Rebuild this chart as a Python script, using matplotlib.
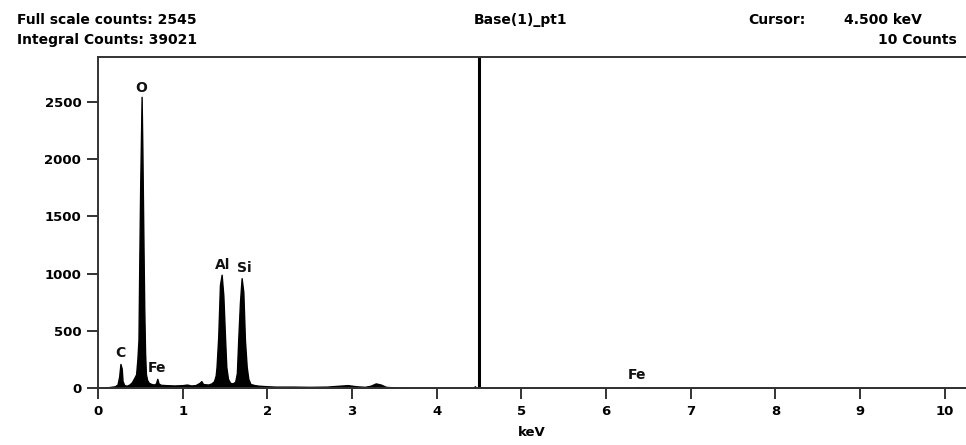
import matplotlib
matplotlib.use("Agg")
import matplotlib.pyplot as plt

# EDS spectrum (keV, counts)
energy_kev = [0.00, 0.08, 0.10, 0.15, 0.20, 0.23, 0.25, 0.265, 0.28, 0.29,
              0.31, 0.34, 0.37, 0.40, 0.43, 0.45, 0.465, 0.478, 0.487, 0.498,
              0.515, 0.524, 0.535, 0.546, 0.556, 0.566, 0.58, 0.60, 0.63, 0.66,
              0.685, 0.700, 0.715, 0.74, 0.80, 0.90, 1.00, 1.05, 1.10, 1.15,
              1.20, 1.22, 1.24, 1.30, 1.34, 1.37, 1.39, 1.40, 1.42, 1.44,
              1.46, 1.48, 1.50, 1.515, 1.535, 1.56, 1.59, 1.62, 1.64, 1.657,
              1.676, 1.696, 1.716, 1.735, 1.756, 1.775, 1.80, 1.85, 1.90, 2.00,
              2.10, 2.30, 2.50, 2.70, 2.85, 2.95, 3.05, 3.15, 3.22, 3.28,
              3.34, 3.40, 3.50, 3.55, 3.58, 3.60, 3.62, 4.43, 4.45, 4.47,
              6.34, 6.37, 6.40, 10.25]
counts = [0, 0, 5, 10, 15, 30, 100, 210, 170, 60,
          25, 20, 30, 50, 90, 120, 250, 420, 1050, 1750,
          2545, 2080, 1365, 700, 305, 120, 70, 45, 35, 30,
          40, 80, 40, 28, 25, 22, 25, 30, 22, 25,
          45, 60, 35, 30, 40, 60, 110, 185, 450, 900,
          990, 810, 440, 185, 80, 45, 40, 55, 130, 440,
          745, 960, 840, 420, 185, 80, 35, 25, 20, 15,
          12, 12, 10, 12, 20, 25, 15, 10, 20, 40,
          30, 10, 5, 0, 0, 6, 0, 0, 15, 0,
          0, 8, 0, 0]

# peak labels
peak_names = ["C", "O", "Fe", "Al", "Si", "Fe"]
peak_x = [0.26, 0.508, 0.70, 1.476, 1.724, 6.36]
peak_y = [306, 2622, 175, 1075, 1049, 114]

cursor_kev = 4.5

fig = plt.figure(figsize=(9.66, 4.45), dpi=100)
ax = fig.add_axes([98 / 966, (445 - 388) / 445, 868 / 966, 331 / 445])

ax.fill_between(energy_kev, counts, 0, color="black", lw=1.0)
ax.axvline(cursor_kev, color="black", lw=2.2)

for name, x, y in zip(peak_names, peak_x, peak_y):
    ax.text(x, y, name, ha="center", va="center", fontsize=10,
            fontweight="bold", color="#111111")

ax.set_xlim(0, 10.25)
ax.set_ylim(0, 2893)
ax.set_xticks(range(0, 11))
ax.set_yticks([0, 500, 1000, 1500, 2000, 2500])

for s in ["left", "top", "bottom"]:
    ax.spines[s].set_color("#333333")
    ax.spines[s].set_linewidth(1.4)
ax.spines["right"].set_visible(False)

ax.tick_params(axis="both", direction="out", length=8, width=1.4,
               color="#333333", labelsize=9.5, pad=4)
for lab in ax.get_xticklabels() + ax.get_yticklabels():
    lab.set_fontweight("bold")

ax.set_xlabel("keV", fontsize=9.5, fontweight="bold", labelpad=6)

# header lines
hdr = dict(fontsize=10, fontweight="bold", va="center")
fig.text(17 / 966, 1 - 20 / 445, "Full scale counts: 2545", ha="left", **hdr)
fig.text(17 / 966, 1 - 40 / 445, "Integral Counts: 39021", ha="left", **hdr)
fig.text(521 / 966, 1 - 20 / 445, "Base(1)_pt1", ha="center", **hdr)
fig.text(748 / 966, 1 - 20 / 445, "Cursor:", ha="left", **hdr)
fig.text(844 / 966, 1 - 20 / 445, "4.500 keV", ha="left", **hdr)
fig.text(957 / 966, 1 - 40 / 445, "10 Counts", ha="right", **hdr)

fig.savefig("out.png", dpi=100)
